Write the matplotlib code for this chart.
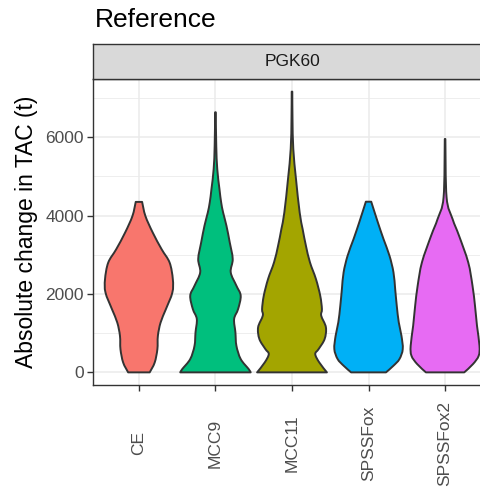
import numpy as np
import matplotlib
matplotlib.use("Agg")
import matplotlib.pyplot as plt
from matplotlib.path import Path
from matplotlib.patches import PathPatch

plt.rcParams['font.family'] = ['Liberation Sans', 'DejaVu Sans']

# categories and ggplot hue colours (factor order is alphabetical, hence MCC11 olive)
methods = ["CE", "MCC9", "MCC11", "SPSSFox", "SPSSFox2"]
fills = ["#F8766D", "#00BF7D", "#A3A500", "#00B0F6", "#E76BF3"]
facet = "PGK60"

# violin outlines: level of absolute TAC change (t)
# and the relative density (half width) at that level
ce_y = [0, 250, 590, 930, 1270, 1610, 2035, 2375, 2800, 3140, 3570, 3990, 4350]
ce_d = [10.8, 15.8, 18.5, 19, 21.7, 27, 33.5, 34, 30.8, 22.8, 13.8, 6.5, 3.2]

mcc9_y = [0, 84, 340, 679, 1021, 1361, 1616, 1956, 2211, 2553, 2893, 3319,
          3743, 4077, 4340, 4680, 5190, 5785, 6638]
mcc9_d = [35.3, 33.3, 25.3, 21, 20, 18.7, 22.7, 25.3, 21, 15.3, 17.3, 14.3,
          11, 7.7, 5.7, 4, 1.8, 0.8, 0.3]

mcc11_y = [0, 255, 467, 595, 850, 1149, 1446, 1616, 1956, 2382, 2808, 3226,
           3651, 4077, 4935, 5701, 6467, 7164]
mcc11_d = [35, 27.3, 23.3, 26.7, 32.7, 34, 29.3, 30, 28.3, 24, 18, 14,
           10.7, 7.7, 4, 1.3, 0.5, 0.3]

fox_y = [0, 170, 340, 595, 934, 1277, 1700, 2127, 2553, 2977, 3403, 3830, 4355]
fox_d = [17.5, 25, 31, 34.3, 33, 30.3, 28.3, 26.7, 25, 21, 15, 9.3, 2.7]

fox2_y = [0, 212, 424, 679, 1190, 1700, 2211, 2808, 3487, 3914, 4468, 5956]
fox2_d = [19.2, 28, 33.7, 34.5, 32, 30, 27.5, 23.2, 14, 7.5, 1.5, 0.3]

levels = [ce_y, mcc9_y, mcc11_y, fox_y, fox2_y]
dens = [ce_d, mcc9_d, mcc11_d, fox_d, fox2_d]


def smooth_side(pts):
    # Catmull-Rom through the read points, as cubic Bezier segments
    p = np.vstack([pts[0], pts, pts[-1]])
    verts, codes = [], []
    for k in range(1, len(p) - 2):
        c1 = p[k] + (p[k + 1] - p[k - 1]) / 6
        c2 = p[k + 1] - (p[k + 2] - p[k]) / 6
        verts += [c1, c2, p[k + 1]]
        codes += [Path.CURVE4] * 3
    return verts, codes


fig = plt.figure(figsize=(4.81, 4.91), dpi=100)

# panel (runs off the right edge like the reference)
ax = fig.add_axes([93/481, 106/491, 398/481, 306/491])
dmax = max(max(d) for d in dens)
for i, (yy, dd) in enumerate(zip(levels, dens)):
    x = i + 1
    yy = np.array(yy, float)
    half = np.array(dd, float) / dmax * 0.46
    left = np.column_stack([x - half, yy])
    right = np.column_stack([x + half, yy])[::-1]
    verts, codes = [left[0]], [Path.MOVETO]
    v, c = smooth_side(left)
    verts += v; codes += c
    verts.append(right[0]); codes.append(Path.LINETO)
    v, c = smooth_side(right)
    verts += v; codes += c
    verts.append(left[0]); codes.append(Path.CLOSEPOLY)
    ax.add_patch(PathPatch(Path(np.array(verts), codes), fc=fills[i],
                           ec='#333333', lw=1.4, zorder=3, joinstyle='round'))

top = max(max(y) for y in levels)
pad = 0.045 * top
ax.set_ylim(-pad, top + pad)
ax.set_xlim(0.4, len(methods) + 0.6)
ax.set_yticks([0, 2000, 4000, 6000])
ax.set_yticks([1000, 3000, 5000, 7000], minor=True)
ax.set_xticks(range(1, len(methods) + 1))
ax.set_xticklabels(methods, rotation=90, va='center', ha='center')
ax.grid(which='major', color='#EBEBEB', lw=1.1)
ax.grid(which='minor', axis='y', color='#EBEBEB', lw=0.6)
ax.set_axisbelow(True)
for s in ax.spines.values():
    s.set_color('#333333')
    s.set_linewidth(1.0)
ax.tick_params(which='major', length=4, width=1, color='#333333',
               labelsize=12.5, labelcolor='#4D4D4D')
ax.tick_params(which='minor', length=0)
ax.tick_params(axis='y', pad=2.5)
ax.tick_params(axis='x', pad=38)
ax.set_ylabel("Absolute change in TAC (t)", fontsize=16.5, color='black')
ax.yaxis.label.set_va('center')
ax.yaxis.set_label_coords(-66/398, 0.5)

# facet strip
sx = fig.add_axes([93/481, 412/491, 398/481, 35/491])
sx.set_facecolor('#D9D9D9')
sx.set_xticks([])
sx.set_yticks([])
for s in sx.spines.values():
    s.set_color('#333333')
    s.set_linewidth(1.0)
sx.text(0.5, 0.5, facet, transform=sx.transAxes, ha='center', va='center',
        fontsize=12.5, color='#1A1A1A')

fig.text(95/481, 1 - 27/491, "Reference", fontsize=19, va='baseline', ha='left')

fig.savefig('out.png', dpi=100)
